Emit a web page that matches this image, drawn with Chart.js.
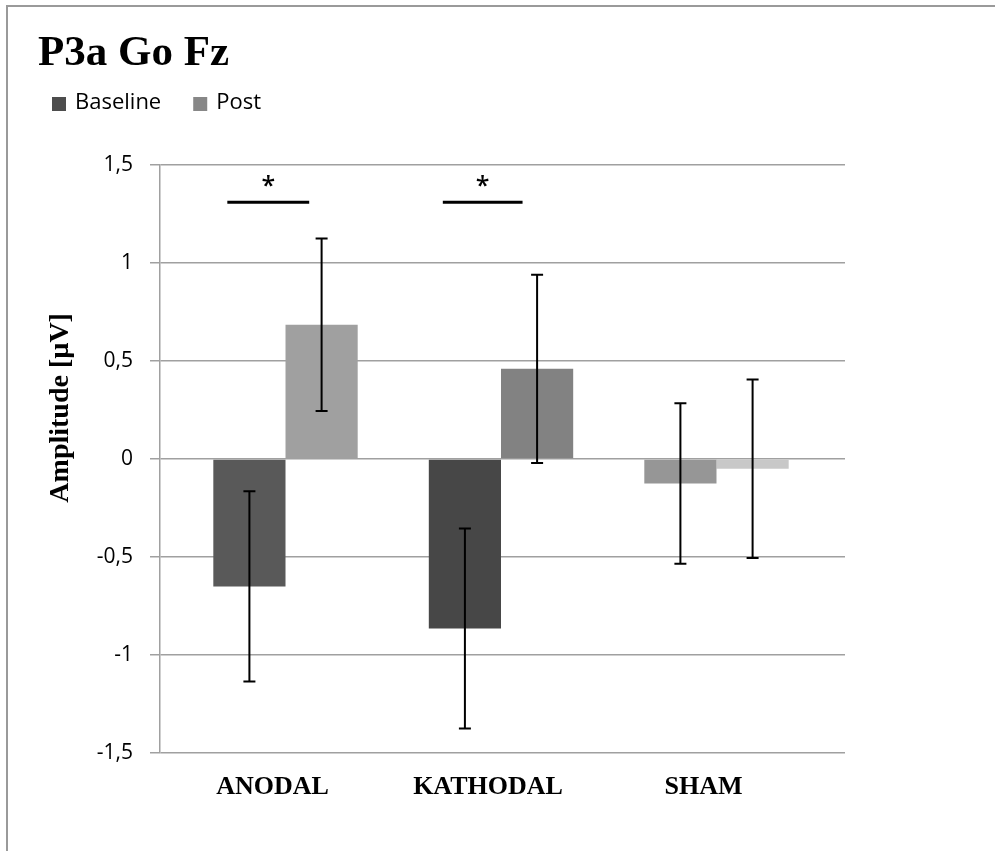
<!DOCTYPE html>
<html>
<head>
<meta charset="utf-8">
<script src="https://cdn.jsdelivr.net/npm/chart.js@4"></script>
<style>
  html, body { margin: 0; padding: 0; background: #fff; overflow: hidden; }
  #wrap { position: relative; width: 995px; height: 851px; }
  #frame { position: absolute; left: 6px; top: 5px; width: 1100px; height: 1000px; border: 2px solid #9a9a9a; pointer-events: none; }
  canvas { position: absolute; left: 0; top: 0; }
</style>
</head>
<body>
<div id="wrap">
  <div id="frame"></div>
  <canvas id="chart" width="995" height="851"></canvas>
</div>
<script>
// Groups on the x axis
const categories = ['ANODAL', 'KATHODAL', 'SHAM'];

// Mean amplitudes (µV) and their error ranges
const baselineMeans = [-0.65, -0.865, -0.125];
const postMeans = [0.685, 0.46, -0.05];
const baselineErrors = [0.485, 0.51, 0.41];
const postErrors = [0.44, 0.48, 0.455];

// Bar fills, one per group
const baselineColors = ['#595959', '#474747', '#969696'];
const postColors = ['#a0a0a0', '#828282', '#c8c8c8'];
const legendColors = ['#4d4d4d', '#878787'];

// Significance brackets: span on the x axis, height on the y axis, marker
const sigFrom = [-0.27, 0.73];
const sigTo = [0.11, 1.10];
const sigLevel = [1.31, 1.31];
const sigMarks = ['*', '*'];

const yTitle = 'Amplitude [µV]';

const errorBars = {
  id: 'errorBars',
  afterDatasetsDraw(chart) {
    const { ctx, scales: { y } } = chart;
    ctx.save();
    ctx.strokeStyle = '#000';
    ctx.lineWidth = 2;
    chart.data.datasets.forEach((ds, d) => {
      const meta = chart.getDatasetMeta(d);
      meta.data.forEach((bar, i) => {
        const m = ds.data[i].y;
        const e = ds.errors[i];
        const top = y.getPixelForValue(m + e);
        const bot = y.getPixelForValue(m - e);
        ctx.beginPath();
        ctx.moveTo(bar.x, top); ctx.lineTo(bar.x, bot);
        ctx.moveTo(bar.x - 6, top); ctx.lineTo(bar.x + 6, top);
        ctx.moveTo(bar.x - 6, bot); ctx.lineTo(bar.x + 6, bot);
        ctx.stroke();
      });
    });
    ctx.restore();
  }
};

const significance = {
  id: 'significance',
  afterDatasetsDraw(chart) {
    const { ctx, scales: { x, y } } = chart;
    ctx.save();
    sigFrom.forEach((from, k) => {
      const x0 = x.getPixelForValue(from);
      const x1 = x.getPixelForValue(sigTo[k]);
      const yy = y.getPixelForValue(sigLevel[k]);
      ctx.strokeStyle = '#000';
      ctx.lineWidth = 3;
      ctx.beginPath();
      ctx.moveTo(x0, yy); ctx.lineTo(x1, yy);
      ctx.stroke();
      ctx.font = '600 25px "Open Sans"';
      ctx.fillStyle = '#000';
      ctx.textAlign = 'center';
      ctx.textBaseline = 'alphabetic';
      ctx.fillText(sigMarks[k], (x0 + x1) / 2, yy - 8);
    });
    ctx.restore();
  }
};

// Legend row under the title and the rotated y-axis caption
const header = {
  id: 'header',
  afterDraw(chart) {
    const { ctx, chartArea } = chart;
    ctx.save();
    ctx.font = '22px "Open Sans"';
    ctx.textBaseline = 'middle';
    ctx.textAlign = 'left';
    let x = 52;
    chart.data.datasets.forEach((ds, i) => {
      ctx.fillStyle = legendColors[i];
      ctx.fillRect(x, 97, 14, 14);
      ctx.fillStyle = '#000';
      ctx.fillText(ds.label, x + 23, 103);
      x += 23 + ctx.measureText(ds.label).width + 32;
    });
    ctx.font = 'bold 28px "Liberation Serif"';
    ctx.translate(61, chartArea.top + chartArea.height * 0.413);
    ctx.rotate(-Math.PI / 2);
    ctx.textAlign = 'center';
    ctx.fillText(yTitle, 0, 0);
    ctx.restore();
  }
};

new Chart(document.getElementById('chart'), {
  type: 'bar',
  data: {
    datasets: [
      {
        label: 'Baseline',
        data: baselineMeans.map((v, i) => ({ x: i, y: v })),
        errors: baselineErrors,
        backgroundColor: baselineColors
      },
      {
        label: 'Post',
        data: postMeans.map((v, i) => ({ x: i, y: v })),
        errors: postErrors,
        backgroundColor: postColors
      }
    ]
  },
  options: {
    responsive: false,
    animation: false,
    categoryPercentage: 0.67,
    barPercentage: 1,
    layout: { padding: { left: 38, right: 150, top: 0, bottom: 29.6 } },
    plugins: {
      legend: { display: false },
      tooltip: { enabled: false },
      title: {
        display: true,
        text: 'P3a Go Fz',
        align: 'start',
        color: '#000',
        font: { family: 'Liberation Serif', size: 43, weight: 'bold', lineHeight: 1.2 },
        padding: { top: 27.7, bottom: 85.7 }
      }
    },
    scales: {
      x: {
        type: 'linear',
        min: -0.5824,
        max: 2.5963,
        offset: false,
        grid: { display: false, drawTicks: false, offset: false },
        border: { display: false },
        afterBuildTicks: (axis) => { axis.ticks = categories.map((c, i) => ({ value: i })); },
        ticks: {
          callback: (v) => categories[v] ?? '',
          color: '#000',
          padding: 18.6,
          labelOffset: -13,
          autoSkip: false,
          maxRotation: 0,
          font: { family: 'Liberation Serif', size: 26, weight: 'bold', lineHeight: 1.2 }
        }
      },
      y: {
        min: -1.5,
        max: 1.5,
        afterFit: (axis) => { axis.width = 122; },
        ticks: {
          stepSize: 0.5,
          callback: (v) => String(v).replace('.', ','),
          color: '#000',
          padding: 17,
          font: { family: 'Open Sans', size: 21 }
        },
        grid: { color: '#a0a0a0', lineWidth: 1.5, tickLength: 10, drawTicks: true },
        border: { color: '#a0a0a0', width: 1.5 }
      }
    }
  },
  plugins: [errorBars, significance, header]
});
</script>
</body>
</html>
